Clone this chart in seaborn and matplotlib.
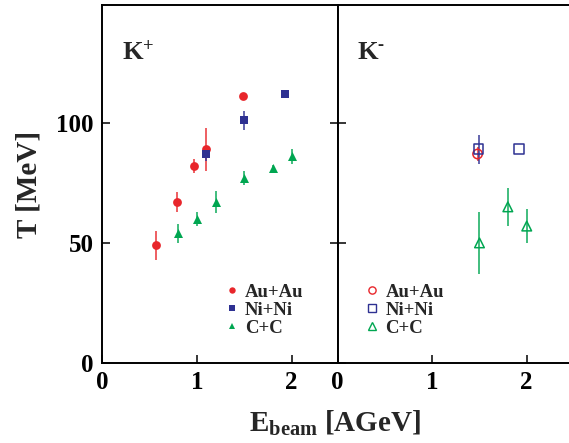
import matplotlib
matplotlib.use("Agg")
import matplotlib.pyplot as plt
from matplotlib.lines import Line2D
from matplotlib.font_manager import FontProperties
import seaborn as sns

# Inverse slope parameters of kaon spectra vs. beam energy
systems = ["Au+Au", "Ni+Ni", "C+C"]
colors = {"Au+Au": "#e8262b", "Ni+Ni": "#2e3192", "C+C": "#00a651"}
markers = {"Au+Au": "o", "Ni+Ni": "s", "C+C": "^"}

# K+ (filled symbols)
kp_au_e = [0.57, 0.79, 0.97, 1.10, 1.49]
kp_au_t = [49, 67, 82, 89, 111]
kp_au_err = [6, 4, 3, 9, 1.5]

kp_ni_e = [1.10, 1.50, 1.93]
kp_ni_t = [87, 101, 112]
kp_ni_err = [3, 4, 1.5]

kp_c_e = [0.80, 1.00, 1.20, 1.50, 1.80, 2.00]
kp_c_t = [54, 60, 67, 77, 81, 86]
kp_c_err = [4, 3, 4.5, 3, 1.5, 3]

# K- (open symbols)
km_au_e = [1.48]
km_au_t = [87]
km_au_err = [3]

km_ni_e = [1.49, 1.92]
km_ni_t = [89, 89]
km_ni_err = [6, 0]

km_c_e = [1.50, 1.80, 2.00]
km_c_t = [50, 65, 57]
km_c_err = [13, 8, 7]

y_ticks = [0, 50, 100]
x_ticks = [0, 1, 2]

sns.set_style("ticks")
serif = "Liberation Serif"
plt.rcParams["font.family"] = [serif, "DejaVu Serif"]
plt.rcParams["font.weight"] = "bold"
plt.rcParams["mathtext.fontset"] = "custom"
plt.rcParams["mathtext.rm"] = "Liberation Serif:bold"
plt.rcParams["mathtext.bf"] = "Liberation Serif:bold"
plt.rcParams["mathtext.it"] = "Liberation Serif:bold"

W, H = 569, 443
fig = plt.figure(figsize=(W / 100, H / 100), dpi=100)
fig.patch.set_facecolor("white")

x0, x_mid, y_bot, y_top = 102.3, 337.7, 363.0, 5.3
ax_l = fig.add_axes([x0 / W, (H - y_bot) / H, (x_mid - x0) / W, (y_bot - y_top) / H])
ax_r = fig.add_axes([x_mid / W, (H - y_bot) / H, 236.3 / W, (y_bot - y_top) / H])

series_kp = {
    "Au+Au": (kp_au_e, kp_au_t, kp_au_err),
    "Ni+Ni": (kp_ni_e, kp_ni_t, kp_ni_err),
    "C+C": (kp_c_e, kp_c_t, kp_c_err),
}
series_km = {
    "Au+Au": (km_au_e, km_au_t, km_au_err),
    "Ni+Ni": (km_ni_e, km_ni_t, km_ni_err),
    "C+C": (km_c_e, km_c_t, km_c_err),
}
sizes = {"Au+Au": 40, "Ni+Ni": 40, "C+C": 42}

for name, (e, t, err) in series_kp.items():
    c = colors[name]
    ax_l.errorbar(e, t, yerr=err, fmt="none", ecolor=c, elinewidth=1.3,
                  alpha=0.8, capsize=0, zorder=2)
    sns.scatterplot(x=e, y=t, ax=ax_l, marker=markers[name], color=c,
                    s=sizes[name], linewidth=0, zorder=3, legend=False)

for name, (e, t, err) in series_km.items():
    c = colors[name]
    ax_r.errorbar(e, t, yerr=err, fmt="none", ecolor=c, elinewidth=1.3,
                  alpha=0.8, capsize=0, zorder=2)
    sns.scatterplot(x=e, y=t, ax=ax_r, marker=markers[name], color=c,
                    facecolor="none", edgecolor=c, s=sizes[name] + 6,
                    linewidth=1.1, zorder=3, legend=False)

tick_font = FontProperties(family=serif, weight="bold", size=18)
for ax, xmax in ((ax_l, 2.486), (ax_r, 2.5)):
    ax.set_xlim(0, xmax)
    ax.set_ylim(0, 148.9)
    ax.set_xticks(x_ticks)
    ax.set_yticks(y_ticks)
    ax.set_xlabel("")
    ax.set_ylabel("")
    ax.tick_params(direction="in", length=6, width=1.1, pad=6,
                   left=True, right=True, top=False, bottom=True, colors="black")
    for sp in ax.spines.values():
        sp.set_visible(True)
        sp.set_linewidth(1.4)
        sp.set_color("black")

ax_r.tick_params(labelleft=False, right=False)
ax_l.set_xticklabels([str(v) for v in x_ticks], fontproperties=tick_font)
ax_r.set_xticklabels([str(v) for v in x_ticks], fontproperties=tick_font)
ax_l.set_yticklabels([str(v) for v in y_ticks], fontproperties=tick_font)

# Panel labels
lab_font = dict(family=serif, weight="bold")
ax_l.text(0.082, 0.849, r"K$^{+}$", transform=ax_l.transAxes, fontsize=19,
          va="baseline", ha="left", **lab_font)
ax_r.text(0.083, 0.849, r"K$^{\text{-}}$", transform=ax_r.transAxes, fontsize=19,
          va="baseline", ha="left", **lab_font)

# Legends
leg_font = FontProperties(family=serif, weight="bold", size=13.5)
h_filled = [Line2D([], [], ls="none", marker=markers[n], color=colors[n],
                   markersize=4.6, markeredgewidth=0) for n in systems]
h_open = [Line2D([], [], ls="none", marker=markers[n], markerfacecolor="none",
                 markeredgecolor=colors[n], markersize=5.2, markeredgewidth=1.0)
          for n in systems]
leg_kw = dict(loc="center left", frameon=False, borderpad=0, borderaxespad=0,
              handlelength=0.8, handletextpad=0.3, labelspacing=0.05,
              prop=leg_font)
ax_l.legend(h_filled, systems, bbox_to_anchor=(0.518, 0.148), **leg_kw)
ax_r.legend(h_open, systems, bbox_to_anchor=(0.115, 0.148), **leg_kw)

# Axis titles
ax_l.set_ylabel("T [MeV]", fontsize=21, fontweight="bold", family=serif)
ax_l.yaxis.set_label_coords(-0.255, 0.5)
fig.text(335 / W, 11 / H, r"$\mathbf{E}_{\mathbf{beam}}$ [AGeV]", fontsize=21,
         fontweight="bold", family=serif, ha="center", va="baseline")

fig.savefig("out.png", dpi=100, facecolor="white")
